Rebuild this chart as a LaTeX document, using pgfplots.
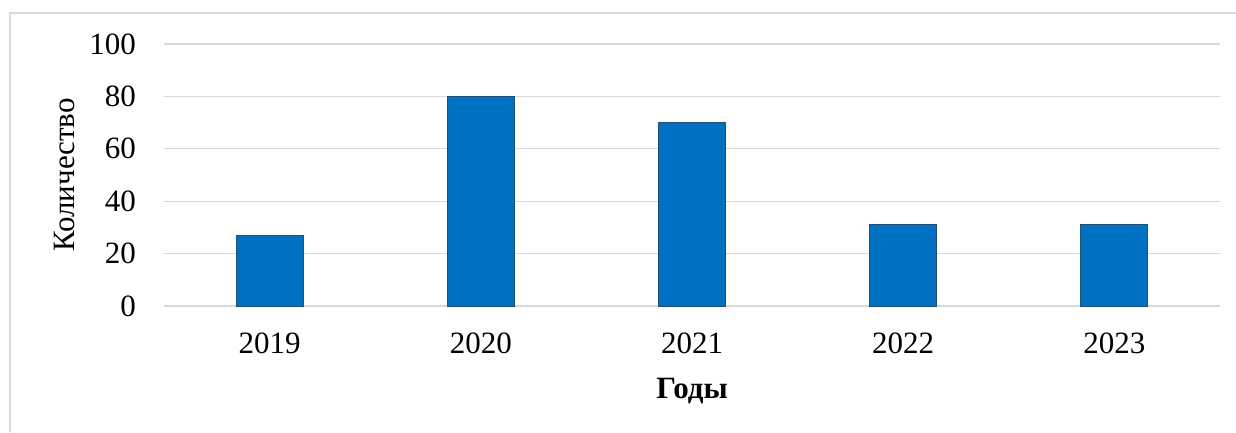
\documentclass[border=0pt]{standalone}
\usepackage{pgfplots}
\pgfplotsset{compat=1.18}
\usepackage{fontspec}
\setmainfont{Liberation Serif}
\definecolor{barblue}{HTML}{0070C0}
\definecolor{baredge}{HTML}{1F4E79}
\definecolor{gridgray}{HTML}{D9D9D9}
\begin{document}
\begin{tikzpicture}
\useasboundingbox (0pt,0pt) rectangle (1236pt,432pt);
\begin{axis}[
    at={(164pt,126pt)}, anchor=south west,
    scale only axis,
    width=1056pt, height=262pt,
    xmin=-0.5, xmax=4.5,
    ymin=0, ymax=100,
    ytick={0,20,40,60,80,100},
    xtick=data,
    xticklabels={2019,2020,2021,2022,2023},
    axis line style={draw=none},
    major tick length=0pt,
    ymajorgrids,
    grid style={gridgray, line width=1.3pt},
    /pgf/number format/assume math mode=true,
    tick label style={font=\fontsize{31}{37}\selectfont, inner sep=0pt},
    yticklabel style={anchor=east, xshift=-28pt},
    xticklabel style={anchor=north, yshift=-27pt},
    xlabel={\textbf{Годы}},
    ylabel={Количество},
    label style={font=\fontsize{31}{37}\selectfont, inner sep=0pt},
    xlabel style={at={(axis description cs:0.5,-0.2748)}, anchor=north},
    ylabel style={at={(axis description cs:-0.0843,0.5)}, rotate=0, anchor=south},
    ybar, bar width=67pt,
  ]
  \addplot[fill=barblue, draw=baredge, line width=1pt] coordinates {
    (0,27) (1,80) (2,70) (3,31) (4,31)
  };
\end{axis}
\draw[gridgray, line width=1.3pt] (10pt,0pt) -- (10pt,419pt) -- (1236pt,419pt);
\end{tikzpicture}
\end{document}
